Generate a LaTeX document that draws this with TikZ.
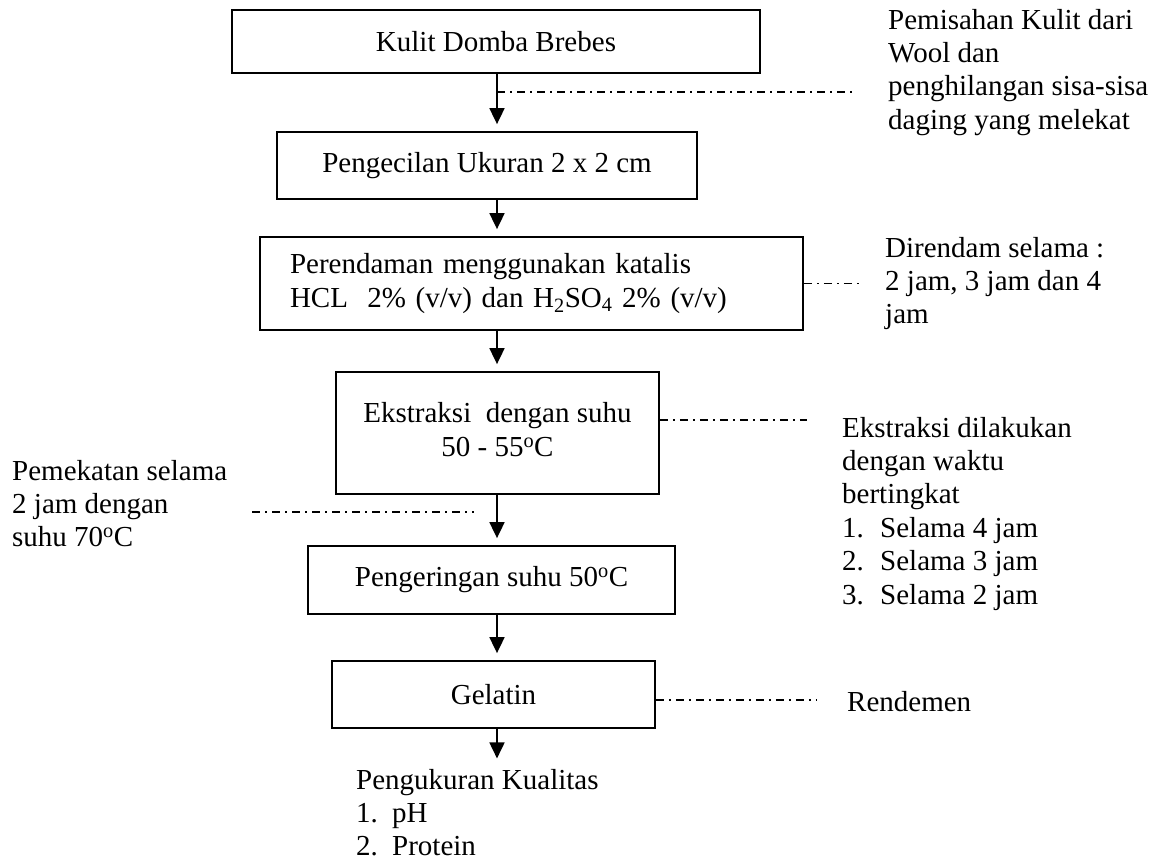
\documentclass[tikz,border=0pt]{standalone}
\usepackage{fontspec}
\setmainfont{Liberation Serif}
\usetikzlibrary{arrows.meta}
\begin{document}
\begin{tikzpicture}[x=1pt,y=-1pt,
  txt/.style={font=\fontsize{29}{33.4}\selectfont, inner sep=0pt},
  procbox/.style={draw, line width=1.8pt, txt},
  flow/.style={line width=1.8pt, -{Triangle[width=15pt,length=16pt]}, shorten >=7pt},
  dashdot/.style={line width=1.2pt, dash pattern=on 8pt off 5pt on 2pt off 5pt},
]
\useasboundingbox (0,0) rectangle (1156,863);

% process boxes
\node[procbox, minimum width=528pt, minimum height=63pt] (b1) at (496,41.5) {Kulit Domba Brebes};
\node[procbox, minimum width=420pt, minimum height=67pt] (b2) at (487,165.5) {Pengecilan Ukuran 2 x 2 cm};
\node[procbox, minimum width=543pt, minimum height=93pt, text width=483pt, align=left] (b3) at (531.5,283.5)
  {Perendaman menggunakan katalis\\HCL\ \ 2\% (v/v) dan H\textsubscript{2}SO\textsubscript{4} 2\% (v/v)};
\node[procbox, minimum width=323pt, minimum height=122pt] (b4) at (497.5,433)
  {\begin{tabular}{@{}c@{}}Ekstraksi\ \ dengan suhu\\50 - 55\textsuperscript{o}C\end{tabular}\hspace{34pt}};
\node[procbox, minimum width=367pt, minimum height=68pt] (b5) at (491.5,580) {Pengeringan suhu 50\textsuperscript{o}C};
\node[procbox, minimum width=323pt, minimum height=67pt] (b6) at (493.5,694.5) {Gelatin};

% side texts
\node[txt, anchor=base west] (t1) at (888,29) {\begin{tabular}[t]{@{}l@{}}Pemisahan Kulit dari\\Wool dan\\penghilangan sisa-sisa\\daging yang melekat\end{tabular}};
\node[txt, anchor=base west] (t2) at (885,257) {\begin{tabular}[t]{@{}l@{}}Direndam selama :\\2 jam, 3 jam dan 4\\jam\end{tabular}};
\node[txt, anchor=base west] (t3) at (842,437) {\begin{tabular}[t]{@{}l@{}}Ekstraksi dilakukan\\dengan waktu\\bertingkat\\\makebox[38pt][l]{1.}Selama 4 jam\\\makebox[38pt][l]{2.}Selama 3 jam\\\makebox[38pt][l]{3.}Selama 2 jam\end{tabular}};
\node[txt, anchor=base west] (t4) at (12,480) {\begin{tabular}[t]{@{}l@{}}Pemekatan selama\\2 jam dengan\\suhu 70\textsuperscript{o}C\end{tabular}};
\node[txt, anchor=base west] (t5) at (847,711) {Rendemen};
\node[txt, anchor=base west] (t6) at (356,789) {\begin{tabular}[t]{@{}l@{}}Pengukuran Kualitas\\\makebox[36pt][l]{1.}pH\\\makebox[36pt][l]{2.}Protein\end{tabular}};

% main flow
\coordinate (ax) at (497,0);
\draw[flow] (b1.south -| ax) -- (b2.north -| ax);
\draw[flow] (b2.south -| ax) -- (b3.north -| ax);
\draw[flow] (b3.south -| ax) -- (b4.north -| ax);
\draw[flow] (b4.south -| ax) -- (b5.north -| ax);
\draw[flow] (b5.south -| ax) -- (b6.north -| ax);
\draw[flow] (b6.south -| ax) -- (t6.north -| ax);

% dash-dot leaders
\coordinate (d1s) at (497,92);
\coordinate (d1e) at (853,92);
\draw[dashdot] (d1s) -- (d1e);
\coordinate (d2e) at (863,283.5);
\draw[dashdot] (b3.east) -- (d2e);
\coordinate (d3e) at (807,420);
\draw[dashdot] (b4.east |- d3e) -- (d3e);
\coordinate (d4s) at (252,512);
\coordinate (d4e) at (474,512);
\draw[dashdot] (d4s) -- (d4e);
\coordinate (d5e) at (817,700);
\draw[dashdot] (b6.east |- d5e) -- (d5e);
\end{tikzpicture}
\end{document}
